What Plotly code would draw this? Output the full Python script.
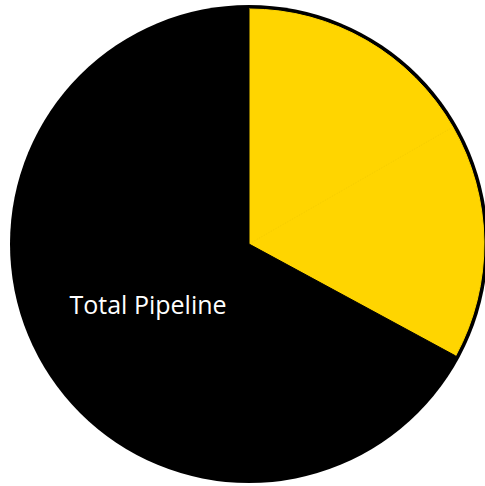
import plotly.graph_objects as go

labels = ["Closed Won", "Committed", "Total Pipeline"]
values = [16.7, 16.2, 67.1]
colors = ["#FFD500", "#FFD500", "#000000"]
texts = ["", "", "%{label}"]

W, H = 498, 488
ML, MR, MT, MB = 10, 10, 5, 5
plot_w = W - ML - MR
inset = 4 / plot_w

fig = go.Figure()
# black backing disc (gives the dark rim round the yellow slices)
fig.add_trace(go.Pie(
    labels=["Total Pipeline"], values=[sum(values)],
    marker=dict(colors=["#000000"], line=dict(width=0)),
    textinfo="none", hoverinfo="skip", showlegend=False,
    domain=dict(x=[0, 1], y=[0, 1]), sort=False,
))
fig.add_trace(go.Pie(
    labels=labels, values=values,
    marker=dict(colors=colors, line=dict(width=1, color=colors)),
    texttemplate=texts, textposition="inside",
    insidetextorientation="horizontal",
    insidetextfont=dict(color="#ffffff", size=25, family="Open Sans"),
    direction="clockwise", sort=False, rotation=0,
    showlegend=False,
    domain=dict(x=[inset, 1 - inset], y=[inset, 1 - inset]),
))
fig.update_layout(
    width=W, height=H,
    margin=dict(l=ML, r=MR, t=MT, b=MB),
    paper_bgcolor="#ffffff", plot_bgcolor="#ffffff",
    showlegend=False,
)
fig.write_html(
    "out.html",
    post_script="document.documentElement.style.overflow='hidden';document.body.style.overflow='hidden';document.body.style.margin='0';",
)
